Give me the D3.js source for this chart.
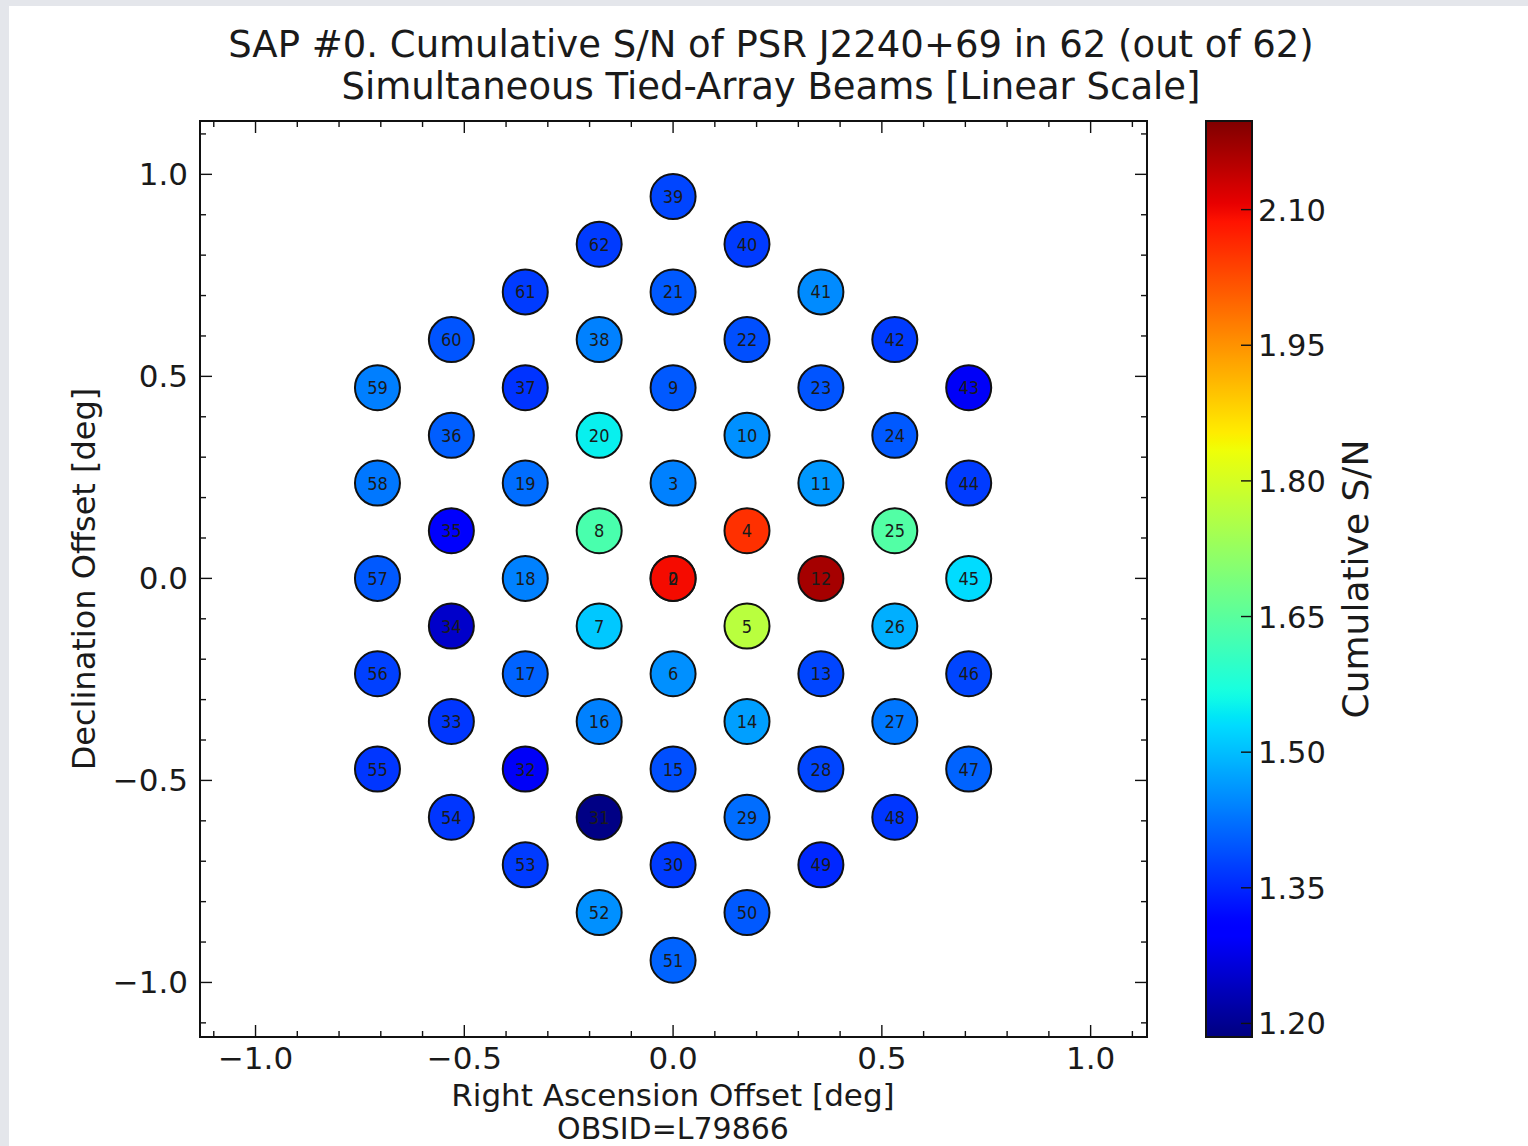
<!DOCTYPE html>
<html>
<head>
<meta charset="utf-8">
<script src="https://cdn.jsdelivr.net/npm/d3@7"></script>
<style>
  html, body { margin: 0; padding: 0; background: #ffffff; }
  svg { display: block; }
  text { font-family: "DejaVu Sans", "Liberation Sans", sans-serif; fill: #1a1a1a; }
</style>
</head>
<body>
<svg id="chart" width="1528" height="1146"></svg>
<script>
// Tied-array beam numbers, sky offsets (deg) and cumulative S/N per beam
const beamIds = [0, 2, 3, 4, 5, 6, 7, 8, 9, 10, 11, 12, 13, 14, 15, 16, 17, 18, 19, 20,
  21, 22, 23, 24, 25, 26, 27, 28, 29, 30, 31, 32, 33, 34, 35, 36, 37, 38, 39, 40,
  41, 42, 43, 44, 45, 46, 47, 48, 49, 50, 51, 52, 53, 54, 55, 56, 57, 58, 59, 60, 61, 62];

const raOffset = [0, 0, 0, 0.177, 0.177, 0, -0.177, -0.177, 0, 0.177, 0.354, 0.354, 0.354, 0.177, 0, -0.177, -0.354, -0.354, -0.354, -0.177,
  0, 0.177, 0.354, 0.531, 0.531, 0.531, 0.531, 0.354, 0.177, 0, -0.177, -0.354, -0.531, -0.531, -0.531, -0.531, -0.354, -0.177, 0, 0.177,
  0.354, 0.531, 0.708, 0.708, 0.708, 0.708, 0.708, 0.531, 0.354, 0.177, 0, -0.177, -0.354, -0.531, -0.708, -0.708, -0.708, -0.708, -0.708, -0.531, -0.354, -0.177];

const decOffset = [0, 0, 0.236, 0.118, -0.118, -0.236, -0.118, 0.118, 0.472, 0.354, 0.236, 0, -0.236, -0.354, -0.472, -0.354, -0.236, 0, 0.236, 0.354,
  0.709, 0.591, 0.472, 0.354, 0.118, -0.118, -0.354, -0.472, -0.591, -0.709, -0.591, -0.472, -0.354, -0.118, 0.118, 0.354, 0.472, 0.591, 0.945, 0.827,
  0.709, 0.591, 0.472, 0.236, 0, -0.236, -0.472, -0.591, -0.709, -0.827, -0.945, -0.827, -0.709, -0.591, -0.472, -0.236, 0, 0.236, 0.472, 0.591, 0.709, 0.827];

const cumulativeSN = [2.095, 2.095, 1.44, 2.055, 1.767, 1.455, 1.51, 1.63, 1.40, 1.455, 1.463, 2.165, 1.38, 1.47, 1.39, 1.44, 1.41, 1.44, 1.42, 1.55,
  1.40, 1.39, 1.395, 1.40, 1.64, 1.485, 1.43, 1.38, 1.42, 1.37, 1.19, 1.29, 1.365, 1.25, 1.295, 1.405, 1.362, 1.44, 1.38, 1.37,
  1.45, 1.37, 1.29, 1.37, 1.53, 1.38, 1.41, 1.365, 1.35, 1.40, 1.41, 1.455, 1.37, 1.365, 1.365, 1.375, 1.40, 1.43, 1.438, 1.395, 1.37, 1.37];

// colour-scale limits and tick values
const snRange = [1.185, 2.198];
const axisMajorTicks = [-1.0, -0.5, 0.0, 0.5, 1.0];
const colorbarTicks = [1.20, 1.35, 1.50, 1.65, 1.80, 1.95, 2.10];
const titleLines = ["SAP #0. Cumulative S/N of PSR J2240+69 in 62 (out of 62)",
                    "Simultaneous Tied-Array Beams [Linear Scale]"];

// ---------- layout ----------
const svg = d3.select("#chart");
const plot = { left: 200, right: 1147, top: 121, bottom: 1037 };
const cbar = { left: 1206, right: 1252, top: 121, bottom: 1037 };
const xLim = [-1.133, 1.135];
const yLim = [-1.135, 1.132];

// page frame
svg.append("rect").attr("x", 0).attr("y", 0).attr("width", 1528).attr("height", 1146).attr("fill", "#e4e6eb");
svg.append("rect").attr("x", 9).attr("y", 6).attr("width", 1519).attr("height", 1140).attr("fill", "#ffffff");

const x = d3.scaleLinear().domain(xLim).range([plot.left, plot.right]);
const y = d3.scaleLinear().domain(yLim).range([plot.bottom, plot.top]);

// matplotlib "jet" colormap built from its channel breakpoints
const jetR = d3.scaleLinear().domain([0, 0.35, 0.66, 0.89, 1]).range([0, 0, 1, 1, 0.5]).clamp(true);
const jetG = d3.scaleLinear().domain([0, 0.125, 0.375, 0.64, 0.91, 1]).range([0, 0, 1, 1, 0, 0]).clamp(true);
const jetB = d3.scaleLinear().domain([0, 0.11, 0.34, 0.65, 1]).range([0.5, 1, 1, 0, 0]).clamp(true);
const jet = t => d3.rgb(jetR(t) * 255, jetG(t) * 255, jetB(t) * 255).formatHex();

const norm = d3.scaleLinear().domain(snRange).range([0, 1]).clamp(true);
const color = v => jet(norm(v));

// ---------- axes frame and ticks ----------
const minorTicks = d3.range(-11, 12).map(i => i / 10);
const majorLen = 12, minorLen = 6;
const tickG = svg.append("g").attr("stroke", "#111").attr("stroke-width", 1.4);

minorTicks.forEach(v => {
  const isMajor = axisMajorTicks.some(m => Math.abs(m - v) < 1e-9);
  const len = isMajor ? majorLen : minorLen;
  if (v >= xLim[0] && v <= xLim[1]) {
    tickG.append("line").attr("x1", x(v)).attr("x2", x(v)).attr("y1", plot.bottom).attr("y2", plot.bottom - len);
    tickG.append("line").attr("x1", x(v)).attr("x2", x(v)).attr("y1", plot.top).attr("y2", plot.top + len);
  }
  if (v >= yLim[0] && v <= yLim[1]) {
    tickG.append("line").attr("y1", y(v)).attr("y2", y(v)).attr("x1", plot.left).attr("x2", plot.left + len);
    tickG.append("line").attr("y1", y(v)).attr("y2", y(v)).attr("x1", plot.right).attr("x2", plot.right - len);
  }
});

svg.append("rect")
  .attr("x", plot.left).attr("y", plot.top)
  .attr("width", plot.right - plot.left).attr("height", plot.bottom - plot.top)
  .attr("fill", "none").attr("stroke", "#111").attr("stroke-width", 2);

const fmt = d3.format(".1f");
svg.append("g").selectAll("text").data(axisMajorTicks).join("text")
  .attr("x", d => x(d)).attr("y", plot.bottom + 32)
  .attr("text-anchor", "middle").attr("font-size", 31)
  .text(d => fmt(d));

svg.append("g").selectAll("text").data(axisMajorTicks).join("text")
  .attr("x", plot.left - 12).attr("y", d => y(d) + 11)
  .attr("text-anchor", "end").attr("font-size", 31)
  .text(d => fmt(d));

// ---------- axis labels & title ----------
svg.append("text").attr("x", 673).attr("y", 1106).attr("text-anchor", "middle").attr("font-size", 31)
  .text("Right Ascension Offset [deg]");
svg.append("text").attr("x", 673).attr("y", 1139).attr("text-anchor", "middle").attr("font-size", 30)
  .text("OBSID=L79866");
svg.append("text").attr("transform", `translate(95,${(plot.top + plot.bottom) / 2}) rotate(-90)`)
  .attr("text-anchor", "middle").attr("font-size", 32)
  .text("Declination Offset [deg]");

svg.append("g").selectAll("text").data(titleLines).join("text")
  .attr("x", 771).attr("y", (d, i) => 57 + i * 42)
  .attr("text-anchor", "middle").attr("font-size", 37)
  .text(d => d);

// ---------- beams ----------
const beams = beamIds.map((id, i) => ({ id, ra: raOffset[i], dec: decOffset[i], sn: cumulativeSN[i] }));

svg.append("g").selectAll("circle").data(beams).join("circle")
  .attr("cx", d => x(d.ra)).attr("cy", d => y(d.dec)).attr("r", 22.5)
  .attr("fill", d => color(d.sn))
  .attr("stroke", "#111").attr("stroke-width", 2);

svg.append("g").selectAll("text").data(beams).join("text")
  .attr("x", d => x(d.ra)).attr("y", d => y(d.dec) + 6.5)
  .attr("text-anchor", "middle").attr("font-size", 18)
  .style("font-stretch", "condensed")
  .attr("fill", "#111")
  .text(d => d.id);

// ---------- colorbar ----------
const cy = d3.scaleLinear().domain(snRange).range([cbar.bottom, cbar.top]);
const defs = svg.append("defs");
const grad = defs.append("linearGradient").attr("id", "jetGrad")
  .attr("x1", 0).attr("y1", 1).attr("x2", 0).attr("y2", 0);
grad.selectAll("stop").data(d3.range(0, 1.0001, 0.01)).join("stop")
  .attr("offset", d => d).attr("stop-color", d => jet(d));

svg.append("rect").attr("x", cbar.left).attr("y", cbar.top)
  .attr("width", cbar.right - cbar.left).attr("height", cbar.bottom - cbar.top)
  .attr("fill", "url(#jetGrad)").attr("stroke", "#111").attr("stroke-width", 2);

svg.append("g").attr("stroke", "#111").attr("stroke-width", 1.4)
  .selectAll("line").data(colorbarTicks).join("line")
  .attr("x1", cbar.right - 11).attr("x2", cbar.right)
  .attr("y1", d => cy(d)).attr("y2", d => cy(d));

const fmt2 = d3.format(".2f");
svg.append("g").selectAll("text").data(colorbarTicks).join("text")
  .attr("x", cbar.right + 6).attr("y", d => cy(d) + 11)
  .attr("font-size", 30.5)
  .text(d => fmt2(d));

svg.append("text").attr("transform", `translate(1368,${(cbar.top + cbar.bottom) / 2}) rotate(-90)`)
  .attr("text-anchor", "middle").attr("font-size", 36)
  .text("Cumulative S/N");
</script>
</body>
</html>
